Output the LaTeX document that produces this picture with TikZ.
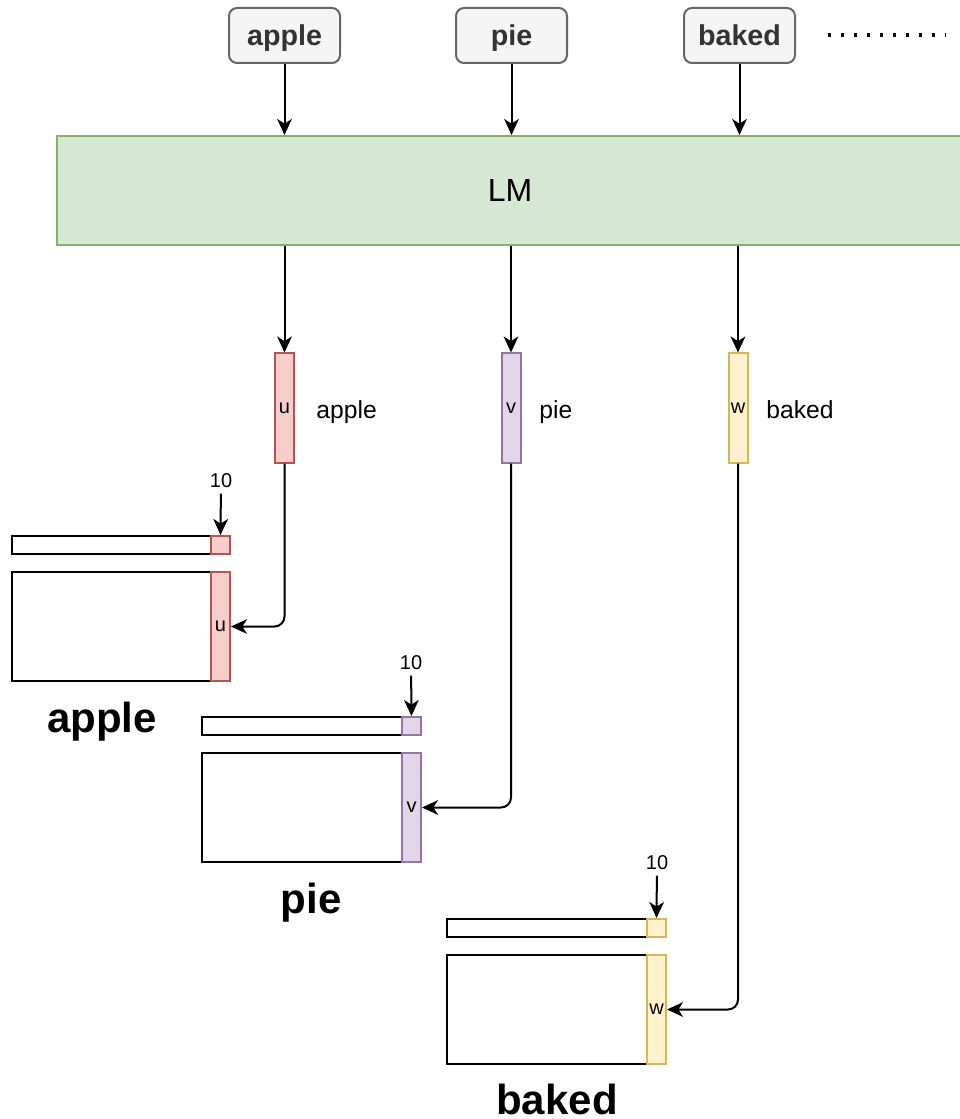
\documentclass[tikz,border=0pt]{standalone}
\usepackage{fontspec}
\setmainfont{Liberation Sans}
\usetikzlibrary{arrows.meta}

\definecolor{tokfill}{HTML}{F5F5F5}
\definecolor{tokline}{HTML}{666666}
\definecolor{toktext}{HTML}{333333}
\definecolor{lmfill}{HTML}{D5E8D4}
\definecolor{lmline}{HTML}{82B366}
\definecolor{redfill}{HTML}{F8CECC}
\definecolor{redline}{HTML}{B85450}
\definecolor{purplefill}{HTML}{E1D5E7}
\definecolor{purpleline}{HTML}{9673A6}
\definecolor{yellowfill}{HTML}{FFF2CC}
\definecolor{yellowline}{HTML}{D6B656}

\tikzset{every picture/.style={line width=1.5pt}}
\tikzset{
  token/.style={draw=tokline, fill=tokfill, rounded corners=6pt, inner sep=0pt,
    minimum width=83.25pt, minimum height=41.25pt, text=toktext,
    text height=15.4pt, text depth=0pt,
    font=\bfseries\fontsize{21.5}{24}\selectfont},
  arr/.style={-{Stealth[length=12pt,width=11pt,inset=3.5pt]}},
  vecbox/.style={inner sep=0pt, minimum width=14.25pt, minimum height=81.75pt,
    font=\fontsize{15}{18}\selectfont},
  cellbox/.style={inner sep=0pt, minimum width=14.25pt, minimum height=13.5pt},
  redbox/.style={draw=redline, fill=redfill},
  purplebox/.style={draw=purpleline, fill=purplefill},
  yellowbox/.style={draw=yellowline, fill=yellowfill},
  small/.style={font=\fontsize{15}{18}\selectfont},
  side/.style={anchor=west, text height=13.3pt, text depth=0pt,
    font=\fontsize{18.5}{22}\selectfont},
  big/.style={inner sep=0pt, text height=22.5pt, text depth=0pt,
    font=\bfseries\fontsize{31.5}{36}\selectfont}
}

\begin{document}
\begin{tikzpicture}[x=0.75pt,y=0.75pt,yscale=-1,xscale=1]
\useasboundingbox (0,0) rectangle (959,1119);

%Tokens
\node[token] (tokApple) at (284.5,35.5) {apple};
\node[token] (tokPie) at (511.5,35.5) {pie};
\node[token] (tokBaked) at (739.5,35.5) {baked};
%Dotted Lines
\draw [line width=2.5pt, dash pattern=on 2.5pt off 7.25pt] (828,35) -- (946,35);

%Shape: LM
\node[draw=lmline, fill=lmfill, inner sep=0pt, minimum width=679.5pt, minimum height=81.75pt,
  font=\fontsize{24}{28}\selectfont] (lm) at (510,190.5) {LM};

%Straight Lines
\draw[arr] (tokApple.south) -- (tokApple.south |- lm.north);
\draw[arr] (tokPie.south) -- (tokPie.south |- lm.north);
\draw[arr] (tokBaked.south) -- (tokBaked.south |- lm.north);

%Vectors
\node[vecbox, redbox] (vecU) at (284.5,408) {u};
\node[vecbox, purplebox] (vecV) at (511,408) {v};
\node[vecbox, yellowbox] (vecW) at (738,408) {w};
% Text Node
\node[side] (labU) at (311,410) {apple};
\node[side] (labV) at (534,410) {pie};
\node[side] (labW) at (761,410) {baked};

\draw[arr] (lm.south -| vecU) -- (vecU.north);
\draw[arr] (lm.south -| vecV) -- (vecV.north);
\draw[arr] (lm.south -| vecW) -- (vecW.north);

%Matrix: apple
\draw (12,536) rectangle (211,554);
\draw (12,572) rectangle (211,681);
\node[cellbox, redbox] (cellA) at (220.5,545) {};
\node[vecbox, redbox] (colA) at (220.5,626.5) {u};
\node[small] (tenA) at (221,481) {10};
\node[big] (nameA) at (102,717) {apple};

%Matrix: pie
\draw (202,717) rectangle (402,735);
\draw (202,753) rectangle (402,862);
\node[cellbox, purplebox] (cellB) at (411.5,726) {};
\node[vecbox, purplebox] (colB) at (411.5,807.5) {v};
\node[small] (tenB) at (411,663) {10};
\node[big] (nameB) at (311,898) {pie};

%Matrix: baked
\draw (447,919) rectangle (647,937);
\draw (447,955) rectangle (647,1064);
\node[cellbox, yellowbox] (cellC) at (656.5,928) {};
\node[vecbox, yellowbox] (colC) at (656.5,1009.5) {w};
\node[small] (tenC) at (657,863) {10};
\node[big] (nameC) at (557,1099) {baked};

%Connectors
\draw[arr] (tenA) -- (cellA.north);
\draw[arr] (tenB) -- (cellB.north);
\draw[arr] (tenC) -- (cellC.north);
\draw[arr, rounded corners=7.5pt] (vecU.south) |- (colA.east);
\draw[arr, rounded corners=7.5pt] (vecV.south) |- (colB.east);
\draw[arr, rounded corners=7.5pt] (vecW.south) |- (colC.east);

\end{tikzpicture}
\end{document}
